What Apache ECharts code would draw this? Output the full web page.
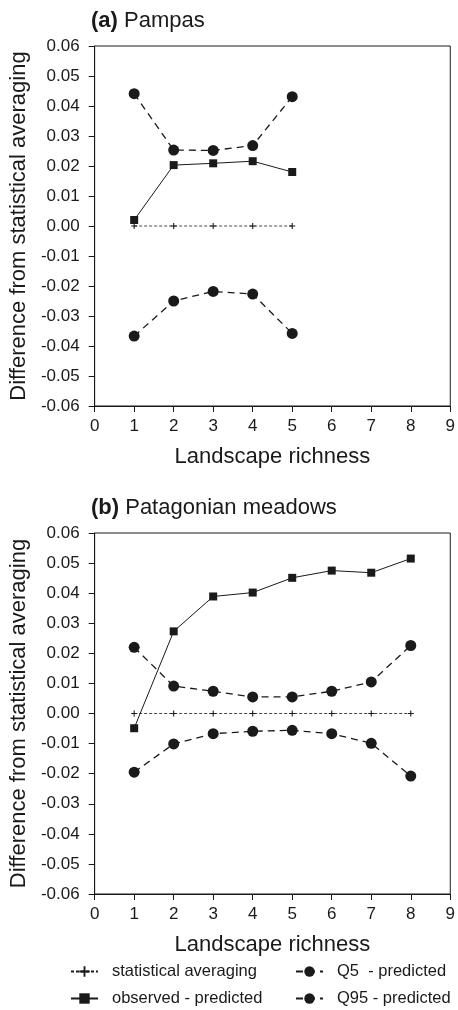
<!DOCTYPE html>
<html>
<head>
<meta charset="utf-8">
<script src="https://cdn.jsdelivr.net/npm/echarts@6/dist/echarts.min.js"></script>
<style>
html,body{margin:0;padding:0;background:#fff;}
#chart{width:458px;height:1010px;}
</style>
</head>
<body>
<div id="chart"></div>
<script>
// ---- data ----
const richnessA = [1, 2, 3, 4, 5];
const statAvgA = [0, 0, 0, 0, 0];
const observedA = [0.002, 0.0203, 0.0209, 0.0216, 0.018];
const q95A = [0.0441, 0.0253, 0.0252, 0.0268, 0.0431];
const q5A = [-0.0367, -0.025, -0.0218, -0.0227, -0.0358];

const richnessB = [1, 2, 3, 4, 5, 6, 7, 8];
const statAvgB = [0, 0, 0, 0, 0, 0, 0, 0];
const observedB = [-0.0049, 0.0273, 0.0389, 0.0402, 0.0451, 0.0475, 0.0468, 0.0515];
const q95B = [0.022, 0.0091, 0.0074, 0.0055, 0.0055, 0.0074, 0.0105, 0.0226];
const q5B = [-0.0195, -0.0101, -0.0067, -0.0059, -0.0056, -0.0067, -0.0099, -0.0208];

const panelTitles = ['(a)', 'Pampas', '(b)', 'Patagonian meadows'];
const xTitle = 'Landscape richness';
const yTitle = 'Difference from statistical averaging';
const seriesNames = ['statistical averaging', 'observed - predicted', 'Q5  - predicted', 'Q95 - predicted'];

// ---- chart ----
const FONT = '"Liberation Sans", Arial, Helvetica, sans-serif';
const INK = '#1a1a1a';
const pairs = (xs, ys) => xs.map((x, i) => [x, ys[i]]);
const plusPath = 'path://M-0.18,-1 L0.18,-1 L0.18,-0.18 L1,-0.18 L1,0.18 L0.18,0.18 L0.18,1 L-0.18,1 L-0.18,0.18 L-1,0.18 L-1,-0.18 L-0.18,-0.18 Z';

function xAxisFor(gi) {
  return {
    type: 'value', gridIndex: gi, min: 0, max: 9, interval: 1,
    name: xTitle, nameLocation: 'middle', nameGap: 40,
    nameTextStyle: {fontSize: 22, color: INK, fontFamily: FONT},
    axisLine: {show: true, onZero: false, lineStyle: {color: INK, width: 1}},
    axisTick: {show: true, inside: false, length: 6, lineStyle: {color: INK}},
    axisLabel: {fontSize: 17, color: INK, fontFamily: FONT, margin: 12},
    splitLine: {show: false}
  };
}
function yAxisFor(gi) {
  return {
    type: 'value', gridIndex: gi, min: -0.06, max: 0.06, interval: 0.01,
    name: yTitle, nameLocation: 'middle', nameGap: 59, nameRotate: 90,
    nameTextStyle: {fontSize: 22, color: INK, fontFamily: FONT},
    axisLine: {show: true, lineStyle: {color: INK, width: 1}},
    axisTick: {show: true, inside: false, length: 6, lineStyle: {color: INK}},
    axisLabel: {fontSize: 17, color: INK, fontFamily: FONT, margin: 15,
      formatter: v => (Math.abs(v) < 1e-9 ? 0 : v).toFixed(2)},
    splitLine: {show: false}
  };
}

function seriesFor(gi, xs, stat, obs, q5, q95) {
  const base = {type: 'line', xAxisIndex: gi, yAxisIndex: gi, animation: false, silent: true};
  return [
    Object.assign({}, base, {
      name: seriesNames[0], data: pairs(xs, stat), symbol: plusPath, symbolSize: 6,
      lineStyle: {color: INK, width: 0.8, type: [3, 2]}, itemStyle: {color: INK}
    }),
    Object.assign({}, base, {
      name: seriesNames[1], data: pairs(xs, obs), symbol: 'rect', symbolSize: 8,
      lineStyle: {color: INK, width: 1, type: 'solid'}, itemStyle: {color: INK}
    }),
    Object.assign({}, base, {
      name: seriesNames[2], data: pairs(xs, q5), symbol: 'circle', symbolSize: 11,
      lineStyle: {color: INK, width: 1.3, type: [7, 5]}, itemStyle: {color: INK}
    }),
    Object.assign({}, base, {
      name: seriesNames[3], data: pairs(xs, q95), symbol: 'circle', symbolSize: 11,
      lineStyle: {color: INK, width: 1.3, type: [7, 5]}, itemStyle: {color: INK}
    })
  ];
}

function legendAt(name, left, top) {
  return {
    show: true, orient: 'horizontal', left: left, top: top, padding: 0,
    itemWidth: 27, itemHeight: 13, selectedMode: false,
    textStyle: {fontSize: 16.5, color: INK, fontFamily: FONT, padding: [0, 0, 0, 9]},
    data: [name]
  };
}

const titleStyle = {fontSize: 22, color: INK, fontFamily: FONT, fontWeight: 'normal',
  rich: {b: {fontSize: 22, fontWeight: 'bold', color: INK, fontFamily: FONT}}};

const option = {
  backgroundColor: '#fff',
  animation: false,
  title: [
    {left: 91, top: 10, padding: 0, text: '{b|' + panelTitles[0] + '} ' + panelTitles[1], textStyle: titleStyle},
    {left: 91, top: 497, padding: 0, text: '{b|' + panelTitles[2] + '} ' + panelTitles[3], textStyle: titleStyle}
  ],
  grid: [
    {left: 92, top: 46, width: 361, height: 360, show: true, borderColor: INK, borderWidth: 1, backgroundColor: 'transparent'},
    {left: 92, top: 533, width: 361, height: 361, show: true, borderColor: INK, borderWidth: 1, backgroundColor: 'transparent'}
  ],
  xAxis: [xAxisFor(0), xAxisFor(1)],
  yAxis: [yAxisFor(0), yAxisFor(1)],
  legend: [
    legendAt(seriesNames[0], 70, 963),
    legendAt(seriesNames[1], 70, 990),
    legendAt(seriesNames[2], 295, 963),
    legendAt(seriesNames[3], 295, 990)
  ],
  series: [].concat(
    seriesFor(0, richnessA, statAvgA, observedA, q5A, q95A),
    seriesFor(1, richnessB, statAvgB, observedB, q5B, q95B)
  )
};

const chart = echarts.init(document.getElementById('chart'), null, {renderer: 'canvas'});
chart.setOption(option);
</script>
</body>
</html>
